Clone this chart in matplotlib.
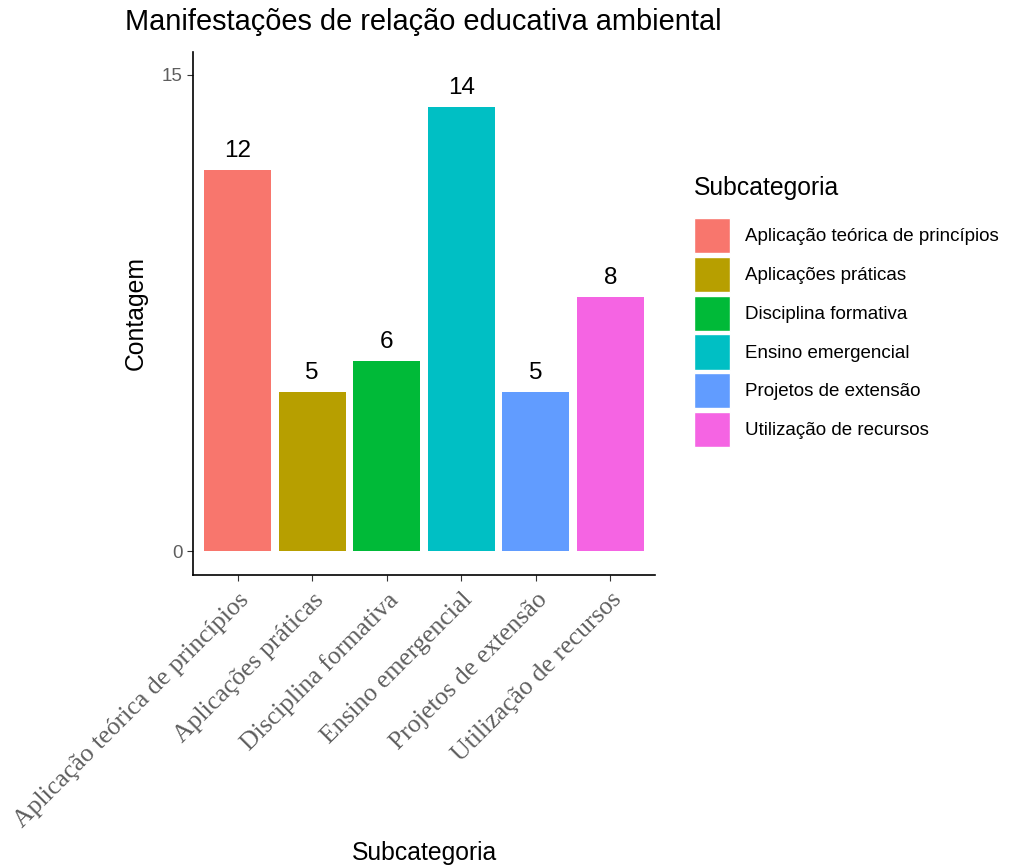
import matplotlib.pyplot as plt
from matplotlib.patches import Patch

# data
categories = ['Aplicação teórica de princípios', 'Aplicações práticas',
              'Disciplina formativa', 'Ensino emergencial',
              'Projetos de extensão', 'Utilização de recursos']
counts = [12, 5, 6, 14, 5, 8]
colors = ['#F8766D', '#B79F00', '#00BA38', '#00BFC4', '#619CFF', '#F564E3']

plt.rcParams['font.family'] = ['Liberation Sans', 'DejaVu Sans']

fig = plt.figure(figsize=(10.13, 8.66), dpi=100)
ax = fig.add_axes([0.1905, 0.336, 0.4561, 0.604])

x = list(range(1, len(categories) + 1))
ax.bar(x, counts, width=0.9, color=colors)
for xi, c in zip(x, counts):
    ax.text(xi, c + 0.25, str(c), ha='center', va='bottom', fontsize=17.5)

ax.set_xlim(0.4, 6.6)
ax.set_ylim(-0.756, 15.72)
ax.set_yticks([0, 15])
ax.set_xticks(x)
ax.set_xticklabels(categories, rotation=45, ha='right', rotation_mode='anchor',
                   fontfamily='Liberation Serif', fontsize=18.5, color='#5E5E5E')
ax.tick_params(axis='y', labelsize=13.5, labelcolor='#5E5E5E', length=4, color='#333333')
ax.tick_params(axis='x', length=4, color='#333333', pad=6)
for s in ['top', 'right']:
    ax.spines[s].set_visible(False)
for s in ['left', 'bottom']:
    ax.spines[s].set_linewidth(1.2)

ax.set_ylabel('Contagem', fontsize=17.8, labelpad=10)
fig.text(425 / 1013, 1 - 853 / 866, 'Subcategoria', fontsize=17.8, ha='center', va='center')
fig.text(125 / 1013, 1 - 22 / 866, 'Manifestações de relação educativa ambiental',
         fontsize=20.9, ha='left', va='center')

# legend (title drawn separately to match spacing)
fig.text(694 / 1013, 1 - 188 / 866, 'Subcategoria', fontsize=17.8, ha='left', va='center')
handles = [Patch(facecolor=c, edgecolor='white', label=l) for c, l in zip(colors, categories)]
leg = fig.legend(handles=handles, loc='upper left',
                 bbox_to_anchor=(694 / 1013, 1 - 218 / 866), frameon=False,
                 fontsize=13.5, handlelength=1.92, handleheight=2.5,
                 labelspacing=0.2, handletextpad=0.8, borderaxespad=0, borderpad=0)

fig.savefig('out.png', dpi=100)
